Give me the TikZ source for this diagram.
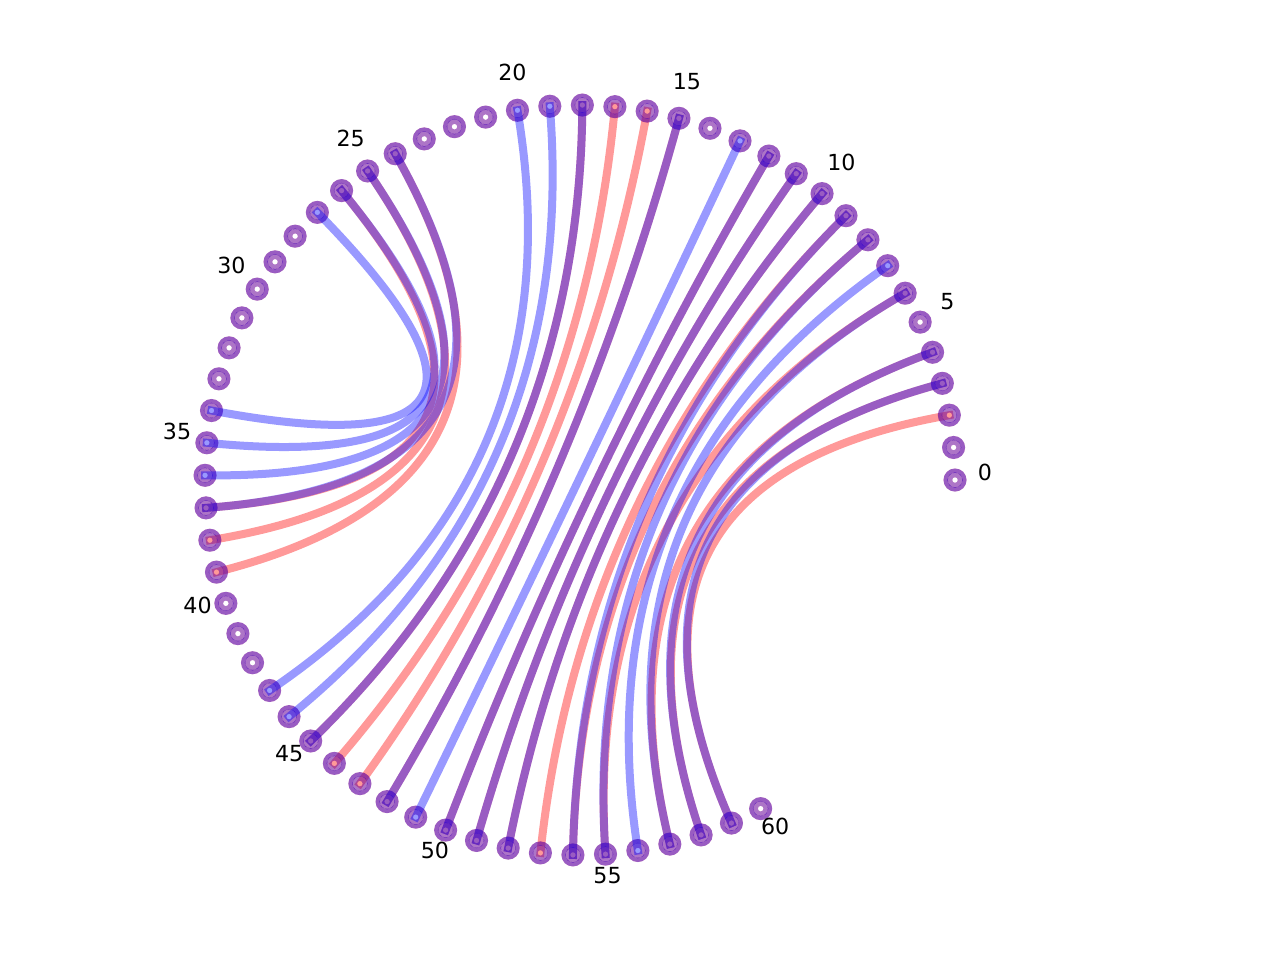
\documentclass[tikz,border=0pt]{standalone}
\usepackage{fontspec}
\setmainfont{DejaVu Sans}
\usetikzlibrary{calc, math}
\definecolor{myred}{RGB}{255,0,0}
\definecolor{myblue}{RGB}{0,0,255}
\tikzset{
  redarc/.style={myred, opacity=0.4, line width=0.8mm, line cap=rect},
  bluearc/.style={myblue, opacity=0.4, line width=0.8mm, line cap=rect},
  redring/.style={draw=myred, opacity=0.4, line width=0.42mm},
  bluering/.style={draw=myblue, opacity=0.4, line width=0.42mm},
  redband/.style={draw=myred, opacity=0.32, line width=0.46mm},
  blueband/.style={draw=myblue, opacity=0.32, line width=0.46mm},
  idxlabel/.style={font=\fontsize{6.3}{7.5}\selectfont, inner sep=0pt}
}

\begin{document}
\begin{tikzpicture}
\tikzmath{
\rad=3.75;
\stp=4.98;
\rlab=4.05;
\rring=0.094;
\rband=0.053;
}
\useasboundingbox (-5.80,-4.80) rectangle (7.00,4.80);
\coordinate (ctr) at (0,0);

% positions on the circle
\foreach \i in {0,...,60}{
  \coordinate (n\i) at ({\i*\stp}:\rad);
}

% first structure
\foreach \a/\b in {24/39,25/38,26/37,18/45,17/46,16/47,15/48,12/50,11/51,10/52,9/53,8/54,6/55,4/57,3/58,2/59}{
  \draw[redarc] (n\a) .. controls ($(n\a)!2/3!(ctr)$) and ($(n\b)!2/3!(ctr)$) .. (n\b);
}
\foreach \i in {0,...,60}{
  \draw[redring] (n\i) circle (\rring);
  \draw[redband] (n\i) circle (\rband);
}

% second structure
\foreach \a/\b in {24/37,25/36,26/35,27/34,20/43,19/44,18/45,15/48,13/49,12/50,11/51,10/52,9/54,8/55,7/56,6/57,4/58,3/59}{
  \draw[bluearc] (n\a) .. controls ($(n\a)!2/3!(ctr)$) and ($(n\b)!2/3!(ctr)$) .. (n\b);
}
\foreach \i in {0,...,60}{
  \draw[bluering] (n\i) circle (\rring);
  \draw[blueband] (n\i) circle (\rband);
}

% index labels
\foreach \i in {0,5,...,60}{
  \node[idxlabel] (l\i) at ($(0,0.08)+({\i*\stp}:\rlab)$) {\i};
}
\end{tikzpicture}
\end{document}
